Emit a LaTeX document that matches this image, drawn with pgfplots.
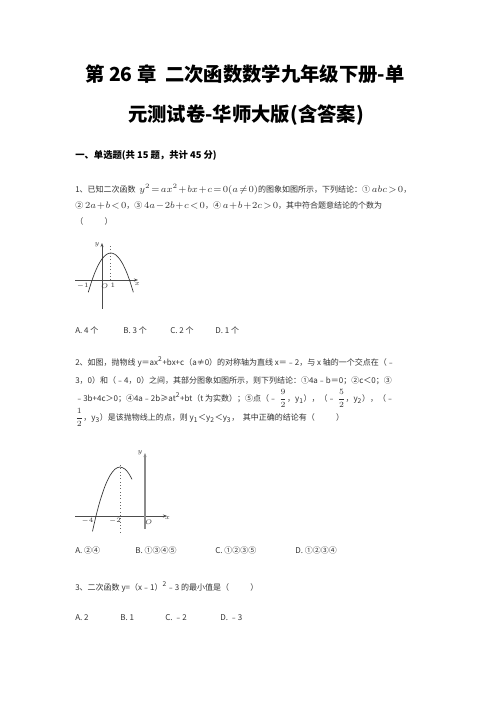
\documentclass[border=0pt]{standalone}
\usepackage{pgfplots}
\pgfplotsset{compat=1.18}
\usetikzlibrary{arrows.meta}
\usepackage{fontspec}
\setmainfont{Noto Sans CJK SC}

\begin{document}
\begin{tikzpicture}[lbl/.style={font=\fontsize{5.5}{6}\selectfont, text=black!80, inner sep=0.5pt}]
\begin{scope}[x=0.75pt,y=-0.75pt]
\fill[white] (0,0) rectangle (496,702);
% title
\node[font=\fontsize{14.5}{16}\selectfont\bfseries] at (245,74) {第 26 章\ \ 二次函数数学九年级下册-单};
\node[font=\fontsize{14.5}{16}\selectfont\bfseries] at (246,115) {元测试卷-华师大版(含答案)};
\node[anchor=base west,inner sep=0,font=\fontsize{7}{8}\selectfont\bfseries] at (75,159) {一、单选题(共 15 题，共计 45 分)};
% question 1
\begin{scope}[every node/.style={anchor=base west,inner sep=0,text=black!80,font=\fontsize{6}{7}\selectfont}]
\node at (75,193) {1、已知二次函数\ \ {\fontsize{6.8}{8}\selectfont$y^2\!=\!ax^2\!+\!bx\!+\!c\!=\!0(a\!\neq\! 0)$}的图象如图所示，下列结论：①\ {\fontsize{6.8}{8}\selectfont$abc\!>\!0$}，};
\node at (75,209) {②\ {\fontsize{6.8}{8}\selectfont$2a\!+\!b\!<\!0$}，③\ {\fontsize{6.8}{8}\selectfont$4a\!-\!2b\!+\!c\!<\!0$}，④\ {\fontsize{6.8}{8}\selectfont$a\!+\!b\!+\!2c\!>\!0$}，其中符合题意结论的个数为};
\node at (75,224) {（\hspace{16pt}）};
\node at (75,333) {A. 4 个};
\node at (123,333) {B. 3 个};
\node at (170,333) {C. 2 个};
\node at (215,333) {D. 1 个};
% question 2
\node at (75,365) {2、如图，抛物线 y＝ax\textsuperscript{2}+bx+c（a≠0）的对称轴为直线 x＝﹣2，与 x 轴的一个交点在（﹣};
\node at (75,383) {3，0）和（﹣4，0）之间，其部分图象如图所示，则下列结论：①4a﹣b＝0；②c＜0；③};
\node at (75,401) {﹣3b+4c＞0；④4a﹣2b≥at\textsuperscript{2}+bt（t 为实数）；⑤点（﹣\ $\displaystyle\frac{9}{2}$，y\textsubscript{1}），（﹣\ $\displaystyle\frac{5}{2}$，y\textsubscript{2}），（﹣};
\node at (75,420) {$\displaystyle\frac{1}{2}$，y\textsubscript{3}）是该抛物线上的点，则 y\textsubscript{1}＜y\textsubscript{2}＜y\textsubscript{3}，\ \ 其中正确的结论有（\hspace{16pt}）};
\node at (75,553) {A. ②④};
\node at (135,553) {B. ①③④⑤};
\node at (215,553) {C. ①②③⑤};
\node at (295,553) {D. ①②③④};
% question 3
\node at (75,590) {3、二次函数 y=（x﹣1）\textsuperscript{2}﹣3 的最小值是（\hspace{16pt}）};
\node at (75,620) {A. 2};
\node at (120,620) {B. 1};
\node at (165,620) {C. ﹣2};
\node at (220,620) {D. ﹣3};
\end{scope}
\end{scope}

% graph of question 1
\begin{axis}[
    at={(76.5pt,-210pt)}, anchor=origin,
    x=8.25pt, y=8.25pt,
    axis lines=middle,
    xmin=-2.45, xmax=3.27, ymin=-2.6, ymax=3.36,
    xtick=\empty, ytick=\empty,
    axis line style={black!70, line width=0.4pt, -{Stealth[length=3pt]}},
    clip=false,
    every axis plot/.append style={black!80, line width=0.5pt},
]
\addplot[smooth] coordinates {
    (-1.25,-1.116) (-0.9,0) (-0.6,0.79) (-0.3,1.428) (0,1.9125) (0.4,2.3205)
    (0.8,2.4565) (1.2,2.3205) (1.6,1.9125) (1.9,1.428) (2.2,0.79) (2.5,0) (2.85,-1.116)
};
\addplot[dotted, black!60] coordinates {(0.8,0) (0.8,3.2)};
\node[lbl] at (axis cs:-0.45,3.25) {$y$};
\node[lbl] at (axis cs:-1.75,-0.5) {$-1$};
\node[lbl] at (axis cs:0.25,-0.55) {$O$};
\node[lbl] at (axis cs:1.0,-0.5) {$1$};
\node[lbl] at (axis cs:3.2,-0.35) {$x$};
\end{axis}

% graph of question 2
\begin{axis}[
    at={(108.75pt,-387pt)}, anchor=origin,
    x=9.375pt, y=9.375pt,
    axis lines=middle,
    xmin=-5.6, xmax=1.76, ymin=-1.04, ymax=5.04,
    xtick=\empty, ytick=\empty,
    x axis line style={black!70, line width=0.4pt, -{Stealth[length=3pt]}},
    y axis line style={black!45, line width=1.1pt, -{Stealth[length=3pt]}},
    clip=false,
    every axis plot/.append style={black!80, line width=0.5pt},
]
\addplot[smooth] coordinates {
    (-4.2,-1.225) (-3.92,0) (-3.6,1.199) (-3.2,2.389) (-2.8,3.24) (-2.4,3.75)
    (-2,3.92) (-1.6,3.75) (-1.3,3.399) (-1.04,2.94)
};
\addplot[dotted, black!60] coordinates {(-2,-1.3) (-2,4.1)};
\node[lbl] at (axis cs:-0.4,5.1) {$y$};
\node[lbl] at (axis cs:-4.6,-0.4) {$-4$};
\node[lbl] at (axis cs:-2.4,-0.4) {$-2$};
\node[lbl] at (axis cs:0.3,-0.5) {$O$};
\node[lbl] at (axis cs:1.8,-0.2) {$x$};
\end{axis}
\end{tikzpicture}
\end{document}
